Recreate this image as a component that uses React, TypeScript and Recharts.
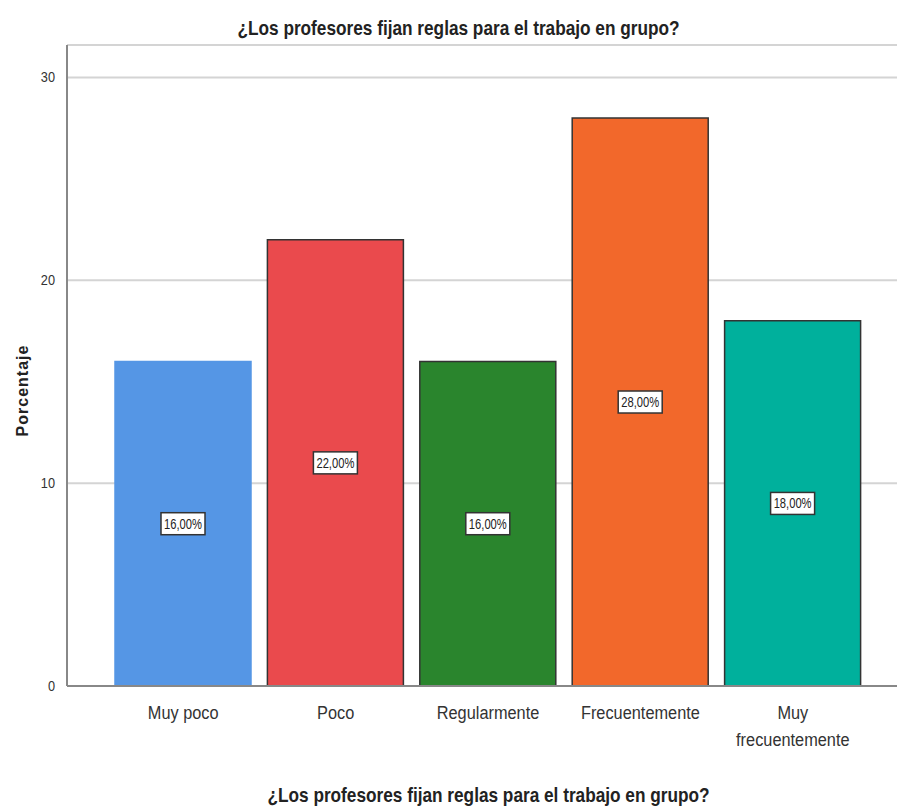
import { BarChart, Bar, XAxis, YAxis, CartesianGrid, Cell, LabelList, Text } from "recharts";

const categories = ["Muy poco", "Poco", "Regularmente", "Frecuentemente", "Muy frecuentemente"];
const percentages = [16, 22, 16, 28, 18];
const barColors = ["#5596e5", "#ea4a4d", "#2a852d", "#f2682b", "#00b09c"];
const yTicks = [0, 10, 20, 30];

const title = "¿Los profesores fijan reglas para el trabajo en grupo?";
const sans = "'Liberation Sans', Arial, sans-serif";

const data = categories.map((name, i) => ({ name, value: percentages[i] }));

const fmt = (v: number) => v.toFixed(2).replace(".", ",") + "%";

// no narrow font installed, so squeeze text horizontally
function CategoryTick(props: any) {
  const { x, y, payload } = props;
  return (
    <g transform={`translate(${x},${y + 11}) scale(0.86,1)`}>
      <Text
        x={0}
        y={0}
        width={120}
        textAnchor="middle"
        verticalAnchor="start"
        fontFamily={sans}
        fontSize={19}
        fill="#333"
        lineHeight={28}
      >
        {payload.value}
      </Text>
    </g>
  );
}

function YTick(props: any) {
  const { x, y, payload } = props;
  return (
    <g transform={`translate(${x},${y}) scale(0.85,1)`}>
      <text x={0} y={5} textAnchor="end" fontFamily={sans} fontSize={15} fill="#333">
        {payload.value}
      </text>
    </g>
  );
}

function ValueBox(props: any) {
  const { x, y, width, height, value } = props;
  const cx = x + width / 2;
  const cy = y + height / 2;
  const w = 44;
  const h = 22;
  return (
    <g>
      <rect x={cx - w / 2} y={cy - h / 2} width={w} height={h} fill="#fff" stroke="#333" strokeWidth={1.5} />
      <g transform={`translate(${cx},${cy + 5}) scale(0.8,1)`}>
        <text x={0} y={0} textAnchor="middle" fontFamily={sans} fontSize={14} fill="#222">
          {fmt(value)}
        </text>
      </g>
    </g>
  );
}

const titleStyle = {
  position: "absolute" as const,
  left: 0,
  textAlign: "center" as const,
  fontFamily: sans,
  fontWeight: "bold" as const,
  fontSize: 21,
  color: "#222",
  transform: "scaleX(0.82)",
  transformOrigin: "center",
  lineHeight: "24px",
};

export default function App() {
  return (
    <div style={{ position: "absolute", left: 0, top: 0, width: 897, height: 809, background: "#fff" }}>
      <div style={{ ...titleStyle, top: 16, width: 917 }}>{title}</div>
      <div style={{ ...titleStyle, top: 783, width: 977 }}>{title}</div>
      <BarChart
        width={897}
        height={809}
        data={data}
        margin={{ top: 45, right: 0, bottom: 93, left: 27 }}
      >
        <CartesianGrid vertical={false} stroke="#d4d4d4" strokeWidth={2} />
        <XAxis
          dataKey="name"
          height={30}
          padding={{ left: 40, right: 28 }}
          tickLine={false}
          axisLine={{ stroke: "#888", strokeWidth: 2 }}
          tick={<CategoryTick />}
          interval={0}
        />
        <YAxis
          width={40}
          domain={[0, 31.6]}
          ticks={yTicks}
          tickLine={false}
          axisLine={{ stroke: "#888", strokeWidth: 2 }}
          tick={<YTick />}
          tickMargin={6}
          label={{
            value: "Porcentaje",
            angle: -90,
            position: "insideLeft",
            dx: -10,
            dy: 25,
            style: {
              fontFamily: sans,
              fontWeight: "bold",
              fontSize: 16,
              letterSpacing: 1,
              fill: "#222",
              textAnchor: "middle",
            },
          }}
        />
        <Bar dataKey="value" barSize={136} isAnimationActive={false}>
          {data.map((d, i) => (
            <Cell
              key={d.name}
              fill={barColors[i]}
              stroke={i === 0 ? barColors[i] : "#333"}
              strokeWidth={1.5}
            />
          ))}
          <LabelList dataKey="value" content={<ValueBox />} />
        </Bar>
      </BarChart>
    </div>
  );
}
